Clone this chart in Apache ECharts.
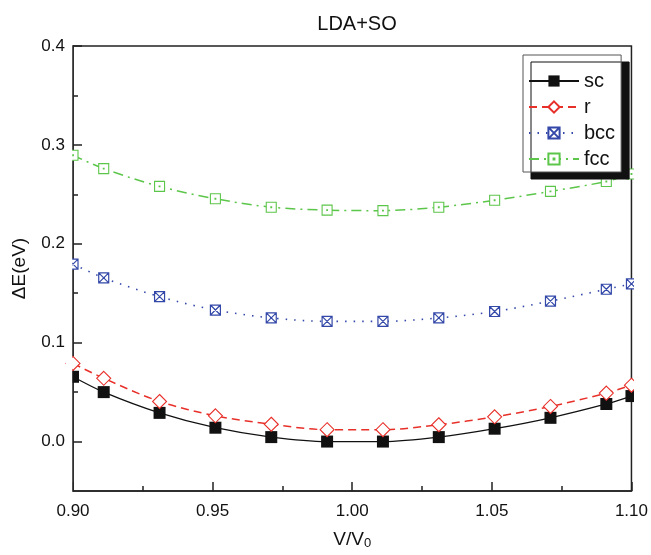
<!DOCTYPE html>
<html>
<head>
<meta charset="utf-8">
<script src="https://cdn.jsdelivr.net/npm/echarts@6/dist/echarts.min.js"></script>
<style>html,body{margin:0;padding:0;background:#fff;}#c{width:651px;height:555px;}</style>
</head>
<body>
<div id="c"></div>
<script>
var xValues = [0.900, 0.911, 0.931, 0.951, 0.971, 0.991, 1.011, 1.031, 1.051, 1.071, 1.091, 1.100];
var scValues  = [0.0655, 0.050, 0.029, 0.014, 0.0045, 0.000, 0.000, 0.0045, 0.013, 0.024, 0.038, 0.046];
var rValues   = [0.079, 0.064, 0.0405, 0.026, 0.0175, 0.012, 0.012, 0.017, 0.025, 0.0355, 0.049, 0.057];
var bccValues = [0.1795, 0.1655, 0.1465, 0.133, 0.125, 0.1215, 0.1215, 0.125, 0.1315, 0.142, 0.154, 0.1595];
var fccValues = [0.2895, 0.276, 0.258, 0.2455, 0.237, 0.234, 0.2335, 0.237, 0.244, 0.253, 0.263, 0.2705];
var yMajorTicks = [0, 0.1, 0.2, 0.3, 0.4];
var yMinorTicks = [0.05, 0.15, 0.25, 0.35];

function pairs(ys) { return xValues.map(function (x, i) { return [x, ys[i]]; }); }

var FONT = 'Liberation Sans, Arial, sans-serif';
var chart = echarts.init(document.getElementById('c'), null, {renderer: 'canvas'});

var bccSymbol = 'path://M0,0L10,0L10,10L0,10Z M0,0L10,10 M10,0L0,10';
var fccSymbol = 'path://M0,0L10,0L10,10L0,10Z M4.6,4.6L5.4,4.6L5.4,5.4L4.6,5.4Z';

chart.setOption({
  animation: false,
  backgroundColor: '#fff',
  title: {
    text: 'LDA+SO', left: 352, top: 9, textAlign: 'center',
    textStyle: {fontFamily: FONT, fontSize: 20, fontWeight: 'normal', color: '#111'}
  },
  grid: {left: 73, right: 18, top: 46, bottom: 59, show: true, borderColor: '#222', borderWidth: 1.5, backgroundColor: 'transparent'},
  legend: {
    orient: 'vertical', left: 523, top: 55,
    itemWidth: 50, itemHeight: 14, itemGap: 6,
    padding: [16, 6, 3, 5],
    backgroundColor: '#fff', borderColor: '#555', borderWidth: 1,
    shadowColor: '#111', shadowOffsetX: 8, shadowOffsetY: 7, shadowBlur: 0,
    textStyle: {fontFamily: FONT, fontSize: 20, color: '#111', lineHeight: 20},
    data: ['sc', 'r', 'bcc', 'fcc']
  },
  graphic: [
    {type: 'rect', left: 66, top: 40, shape: {width: 6.2, height: 462}, style: {fill: '#fff'}, z: 100, silent: true},
    {type: 'rect', left: 634, top: 40, shape: {width: 17, height: 462}, style: {fill: '#fff'}, z: 100, silent: true}
  ],
  xAxis: {
    type: 'value', min: 0.9, max: 1.1, interval: 0.05,
    axisLine: {onZero: false, lineStyle: {color: '#222', width: 1.5}},
    axisTick: {inside: true, length: 9, lineStyle: {color: '#222', width: 1.5}},
    minorTick: {show: true, splitNumber: 2, length: 5, lineStyle: {color: '#222', width: 1.5}},
    splitLine: {show: false},
    axisLabel: {fontFamily: FONT, fontSize: 17, color: '#111', margin: 12, formatter: function (v) { return v.toFixed(2); }},
    name: 'V/V{sub|0}', nameLocation: 'middle', nameGap: 38,
    nameTextStyle: {fontFamily: FONT, fontSize: 19, color: '#111',
      rich: {sub: {fontFamily: FONT, fontSize: 13, color: '#111', verticalAlign: 'bottom', padding: [8, 0, 0, 0]}}}
  },
  yAxis: [{
    type: 'value', min: -0.05, max: 0.4,
    axisLine: {onZero: false, lineStyle: {color: '#222', width: 1.5}},
    axisTick: {inside: true, length: 9, customValues: yMajorTicks, lineStyle: {color: '#222', width: 1.5}},
    splitLine: {show: false},
    axisLabel: {fontFamily: FONT, fontSize: 17, color: '#111', margin: 8, customValues: yMajorTicks, formatter: function (v) { return v.toFixed(1); }},
    name: 'ΔE(eV)', nameLocation: 'middle', nameGap: 44, nameRotate: 90,
    nameTextStyle: {fontFamily: FONT, fontSize: 19, color: '#111'}
  }, {
    type: 'value', min: -0.05, max: 0.4, position: 'left', offset: 0,
    axisLine: {show: false, onZero: false},
    axisTick: {inside: true, length: 5, customValues: yMinorTicks, lineStyle: {color: '#222', width: 1.5}},
    axisLabel: {show: false},
    splitLine: {show: false}
  }],
  series: [{
    name: 'sc', type: 'line', data: pairs(scValues), smooth: 0.3,
    symbol: 'rect', symbolSize: 12,
    itemStyle: {color: '#111'},
    lineStyle: {color: '#111', width: 1.3, type: 'solid'}
  }, {
    name: 'r', type: 'line', data: pairs(rValues), smooth: 0.3,
    symbol: 'diamond', symbolSize: [14, 14],
    itemStyle: {color: '#fff', borderColor: '#e8302a', borderWidth: 1.1},
    lineStyle: {color: '#e8302a', width: 1.5, type: [8, 5]}
  }, {
    name: 'bcc', type: 'line', data: pairs(bccValues), smooth: 0.3,
    symbol: bccSymbol, symbolSize: 10, symbolKeepAspect: true,
    itemStyle: {color: '#fff', borderColor: '#3348a8', borderWidth: 1.2},
    lineStyle: {color: '#3348a8', width: 1.6, type: [1.5, 7]}
  }, {
    name: 'fcc', type: 'line', data: pairs(fccValues), smooth: 0.3,
    symbol: fccSymbol, symbolSize: 10, symbolKeepAspect: true,
    itemStyle: {color: '#fff', borderColor: '#5cc64a', borderWidth: 1.1},
    lineStyle: {color: '#5cc64a', width: 1.5, type: [10, 5, 2, 5]}
  }]
});
</script>
</body>
</html>
